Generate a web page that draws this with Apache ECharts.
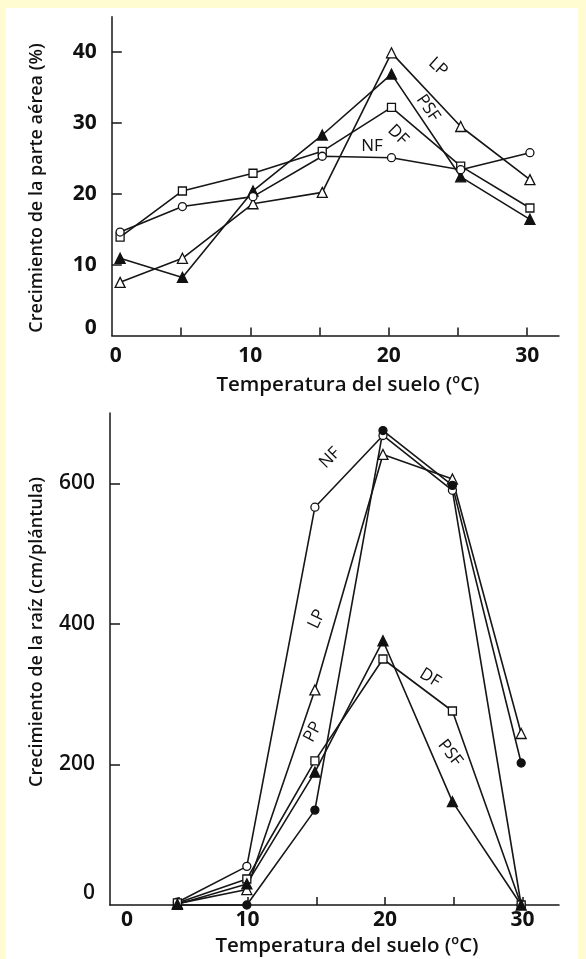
<!DOCTYPE html>
<html><head><meta charset="utf-8">
<script src="https://cdn.jsdelivr.net/npm/echarts@6/dist/echarts.min.js"></script>
<style>
html,body{margin:0;padding:0;background:#fffcd2;width:586px;height:959px;overflow:hidden}
#paper{position:absolute;left:6px;top:8px;width:572px;height:951px;background:#fff}
#chart{position:absolute;left:0;top:0;width:586px;height:959px}
</style></head><body>
<div id="paper"></div><div id="chart"></div>
<script>
// Top chart: shoot growth (%)
const topTemps = [0.6, 5.1, 10.2, 15.2, 20.2, 25.2, 30.2];
const topLP  = [7.5, 10.9, 18.6, 20.2, 39.9, 29.5, 22.0];
const topPSF = [10.9, 8.2, 20.4, 28.3, 36.9, 22.4, 16.4];
const topDF  = [13.9, 20.4, 22.9, 26.0, 32.2, 23.9, 18.0];
const topNF  = [14.6, 18.2, 19.6, 25.3, 25.1, 23.4, 25.8];

// Bottom chart: root growth (cm/plántula)
const rootTemps = [4.9, 9.95, 14.9, 19.85, 24.9, 29.9];
const rootNF  = [4, 55, 566, 668, 590, 0];
const rootLP  = [2, 22, 306, 641, 606, 244];
const rootPP  = [0, 0, 135, 675, 597, 202];
const rootDF  = [3, 37, 205, 350, 276, 0];
const rootPSF = [1, 30, 189, 376, 147, 0];

// Ticks
const xTickLabels = [0, 10, 20, 30];
const xTickMarks = [5, 10, 15, 20, 25, 30];
const topYLabels = [0, 10, 20, 30, 40];
const topYTicks = [10, 20, 30, 40];
const rootYLabels = [0, 200, 400, 600];
const rootYTicks = [200, 400, 600];

const INK = '#161616';
const FONT = 'Open Sans';

function xAxis(gi, max, margin, zeroShift) {
  return {
    type: 'value', gridIndex: gi, min: 0, max: max,
    axisLine: {show: true, onZero: false, lineStyle: {color: INK, width: 1.5}},
    axisTick: {show: true, inside: true, length: 8, customValues: xTickMarks, lineStyle: {color: INK, width: 1.5}},
    axisLabel: {
      customValues: xTickLabels, margin: margin, fontFamily: FONT, fontWeight: 'bold', fontSize: 21, color: '#111',
      formatter: v => v === 0 ? '{z|0}' : String(v),
      rich: {z: {padding: [0, 0, 0, zeroShift], fontFamily: FONT, fontWeight: 'bold', fontSize: 21, color: '#111'}}
    },
    splitLine: {show: false}
  };
}
function yAxis(gi, max, labels, ticks, zeroShift, weight) {
  return {
    type: 'value', gridIndex: gi, min: 0, max: max,
    axisLine: {show: true, onZero: false, lineStyle: {color: INK, width: 1.5}},
    axisTick: {show: true, inside: true, length: 10, customValues: ticks, lineStyle: {color: INK, width: 1.5}},
    axisLabel: {
      customValues: labels, margin: 15, fontFamily: FONT, fontWeight: weight, fontSize: 21, color: '#111',
      formatter: v => v === 0 ? '{z|0}' : String(v),
      rich: {z: {padding: [0, 0, zeroShift, 0], fontFamily: FONT, fontWeight: weight, fontSize: 21, color: '#111'}}
    },
    splitLine: {show: false}
  };
}
function line(name, xs, ys, gi, symbol, filled, size) {
  return {
    type: 'line', name: name, xAxisIndex: gi, yAxisIndex: gi,
    data: xs.map((x, i) => [x, ys[i]]),
    symbol: symbol, symbolSize: size, showSymbol: true, showAllSymbol: true, clip: false,
    lineStyle: {color: INK, width: 1.6},
    itemStyle: {color: filled ? '#111' : '#fff', borderColor: '#111', borderWidth: 1.3},
    emphasis: {disabled: true}
  };
}
function txt(t, x, y, deg, font) {
  return {type: 'text', x: x, y: y, rotation: deg * Math.PI / 180, z: 100,
    style: {text: t, font: font || ('17px ' + FONT), fill: '#111', align: 'center', verticalAlign: 'middle', textAlign: 'center', textVerticalAlign: 'middle'}};
}

const chart = echarts.init(document.getElementById('chart'), null, {renderer: 'canvas'});
chart.setOption({
  animation: false,
  backgroundColor: 'transparent',
  grid: [
    {left: 111.8, top: 16.7, width: 447.2, height: 318.8},
    {left: 110, top: 413, width: 449, height: 492}
  ],
  xAxis: [xAxis(0, 32.3, 10, 8), xAxis(1, 32.65, 5, 34)],
  yAxis: [yAxis(0, 45, topYLabels, topYTicks, 15, 'bold'), yAxis(1, 700, rootYLabels, rootYTicks, 24, 600)],
  series: [
    line('LP', topTemps, topLP, 0, 'triangle', false, 10),
    line('PSF', topTemps, topPSF, 0, 'triangle', true, 10),
    line('DF', topTemps, topDF, 0, 'rect', false, 8),
    line('NF', topTemps, topNF, 0, 'circle', false, 8),
    line('NF', rootTemps, rootNF, 1, 'circle', false, 8),
    line('LP', rootTemps, rootLP, 1, 'triangle', false, 10),
    line('PP', rootTemps, rootPP, 1, 'circle', true, 8),
    line('DF', rootTemps, rootDF, 1, 'rect', false, 8),
    line('PSF', rootTemps, rootPSF, 1, 'triangle', true, 10)
  ],
  graphic: [
    txt('Crecimiento de la parte aérea (%)', 37, 188, 90, '600 18px ' + FONT),
    txt('Crecimiento de la raíz (cm/plántula)', 37, 632, 90, '600 18px ' + FONT),
    txt('Temperatura del suelo (ºC)', 348, 385, 0, '600 20.5px ' + FONT),
    txt('Temperatura del suelo (ºC)', 347, 946, 0, '600 20.5px ' + FONT),
    txt('LP', 438, 67, -42),
    txt('PSF', 428, 108, -55),
    txt('DF', 398, 135, -45),
    txt('NF', 372, 146, 0),
    txt('NF', 330, 458, 45),
    txt('LP', 317, 619, 65),
    txt('PP', 313, 732, 62),
    txt('DF', 430, 678, -32),
    txt('PSF', 450, 753, -52)
  ]
});
</script>
</body></html>
